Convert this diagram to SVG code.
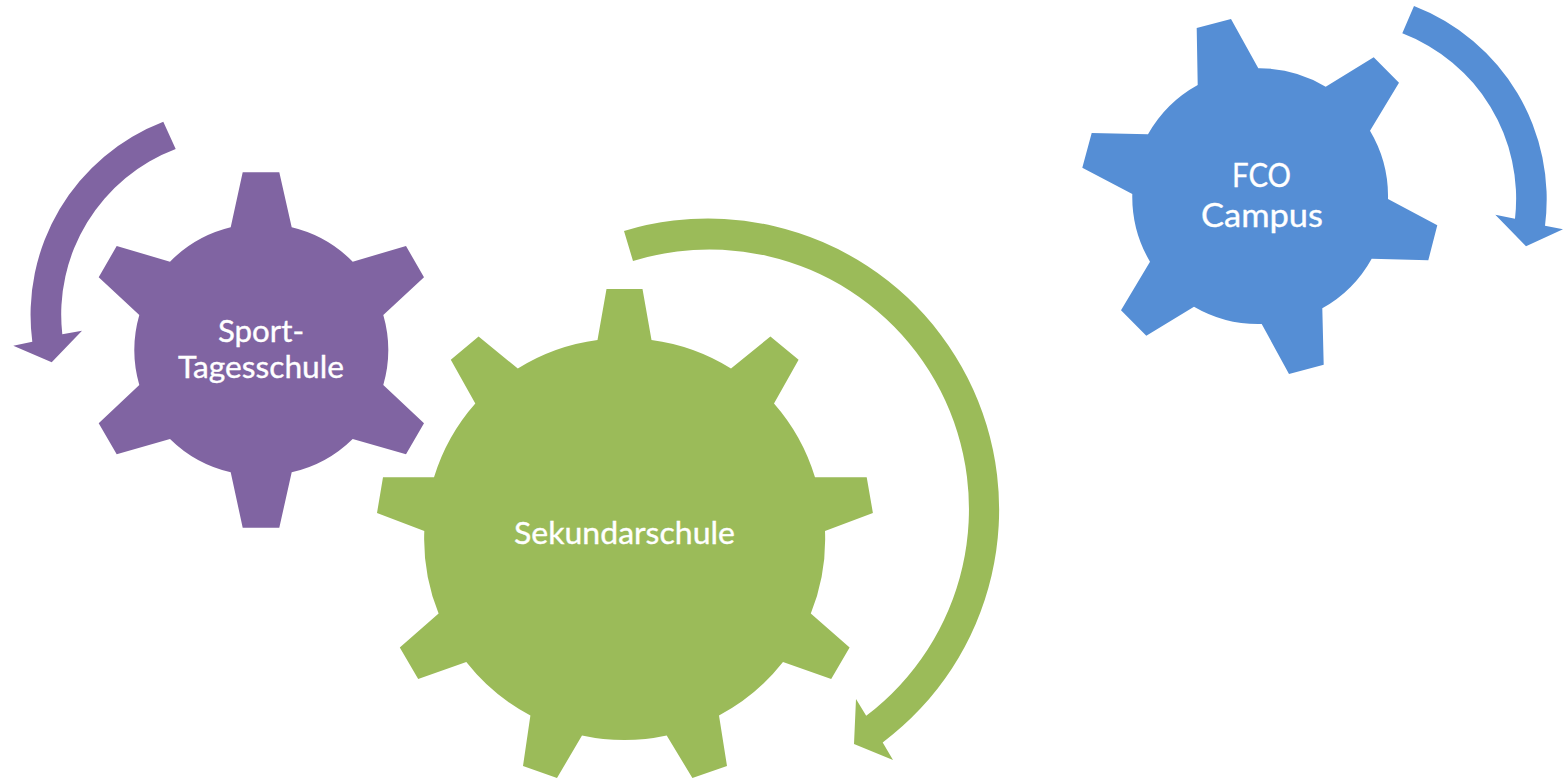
<svg xmlns="http://www.w3.org/2000/svg" width="1563" height="780" viewBox="0 0 1563 780">
<style>
.purple{fill:#8064a2}
.green{fill:#9bbb59}
.blue{fill:#558ed5}
.label{font-family:Lato,"Open Sans","Liberation Sans",sans-serif;fill:#fff;stroke:#fff;stroke-width:.35}
</style>
<rect width="1563" height="780" fill="#fff"/>
<g id="connectors">
<path id="arrow-purple" class="purple" d="M163.3 121.7A207 207 0 0 0 32.3 341.7L13.3 345.7L51.7 362.3L82 330.7L62.3 334.3A177 177 0 0 1 175.7 149Z"/>
<path id="arrow-green" class="green" d="M624 231A291 291 0 0 1 882.7 742.4L893 760L854 744L856 699L866.2 715.8A259.5 259.5 0 0 0 633 261Z"/>
<path id="arrow-blue" class="blue" d="M1414 6A207 207 0 0 1 1545 225.7L1563 229.3L1526 246.3L1495.3 214.7L1515 218.7A177 177 0 0 0 1402.3 33.3Z"/>
</g>
<g id="node-sport">
<path class="purple" d="M242.7 172.3L279.3 172.3L291.7 227.3A127 127 0 0 1 352.7 261.7L406 246L424 277.3L383.3 315A127 127 0 0 1 383.3 385L424 423.3L406 454.3L352.7 439A127 127 0 0 1 291.7 472.3L279.3 527.7L242.7 527.7L230.7 472.3A127 127 0 0 1 170 439L116.7 454.3L98.7 423.3L139.3 385A127 127 0 0 1 139.3 315L98.7 277.3L116.7 246L170 261.7A127 127 0 0 1 230.7 227.3Z"/>
<text class="label" font-size="30" x="218" y="341.5" textLength="86" lengthAdjust="spacingAndGlyphs">Sport-</text>
<text class="label" font-size="30" x="178" y="378" textLength="166" lengthAdjust="spacingAndGlyphs">Tagesschule</text>
</g>
<g id="node-sekundarschule">
<path class="green" d="M606.5 289L642.5 289L651.5 340A200 200 0 0 1 731 368.5L770.4 336.5L798.6 359.8L774 403.5A200 200 0 0 1 815 477.3L866.7 477.3L872.9 512.9L825 531A200 200 0 0 1 810.8 613.6L849.6 647.5L831.2 679L783 662A200 200 0 0 1 719 715.5L727 766L692.4 778L666.7 735.5A200 200 0 0 1 582 735.5L557 778L523 766L530.4 715.5A200 200 0 0 1 466.3 662L418.2 679L399.8 647.5L438.6 613.6A200 200 0 0 1 424.3 531L377 513L383 477.3L434 477.3A200 200 0 0 1 475.3 403.5L450.8 359.8L478.6 336.5L517.8 368.5A200 200 0 0 1 597.5 340Z"/>
<text class="label" font-size="30" x="514" y="544" textLength="221" lengthAdjust="spacingAndGlyphs">Sekundarschule</text>
</g>
<g id="node-fco">
<path class="blue" d="M1196.7 28L1231 19L1258.3 68.3A128 128 0 0 1 1325.7 86.7L1373.7 57.3L1399 82.7L1370 130.7A128 128 0 0 1 1388 199L1437.3 225.3L1428.3 260.3L1371.7 258.7A128 128 0 0 1 1322.3 308.3L1323.7 364.7L1289 374L1261.7 324A128 128 0 0 1 1194 306.7L1146.3 335.7L1121 310.3L1150 261.7A128 128 0 0 1 1132.3 194L1082.3 167.7L1091.7 133L1148 134.3A128 128 0 0 1 1197.7 85Z"/>
<text class="label" font-size="32" x="1232" y="186.5" textLength="59" lengthAdjust="spacingAndGlyphs">FCO</text>
<text class="label" font-size="32" x="1201" y="226.5" textLength="122" lengthAdjust="spacingAndGlyphs">Campus</text>
</g>
</svg>
